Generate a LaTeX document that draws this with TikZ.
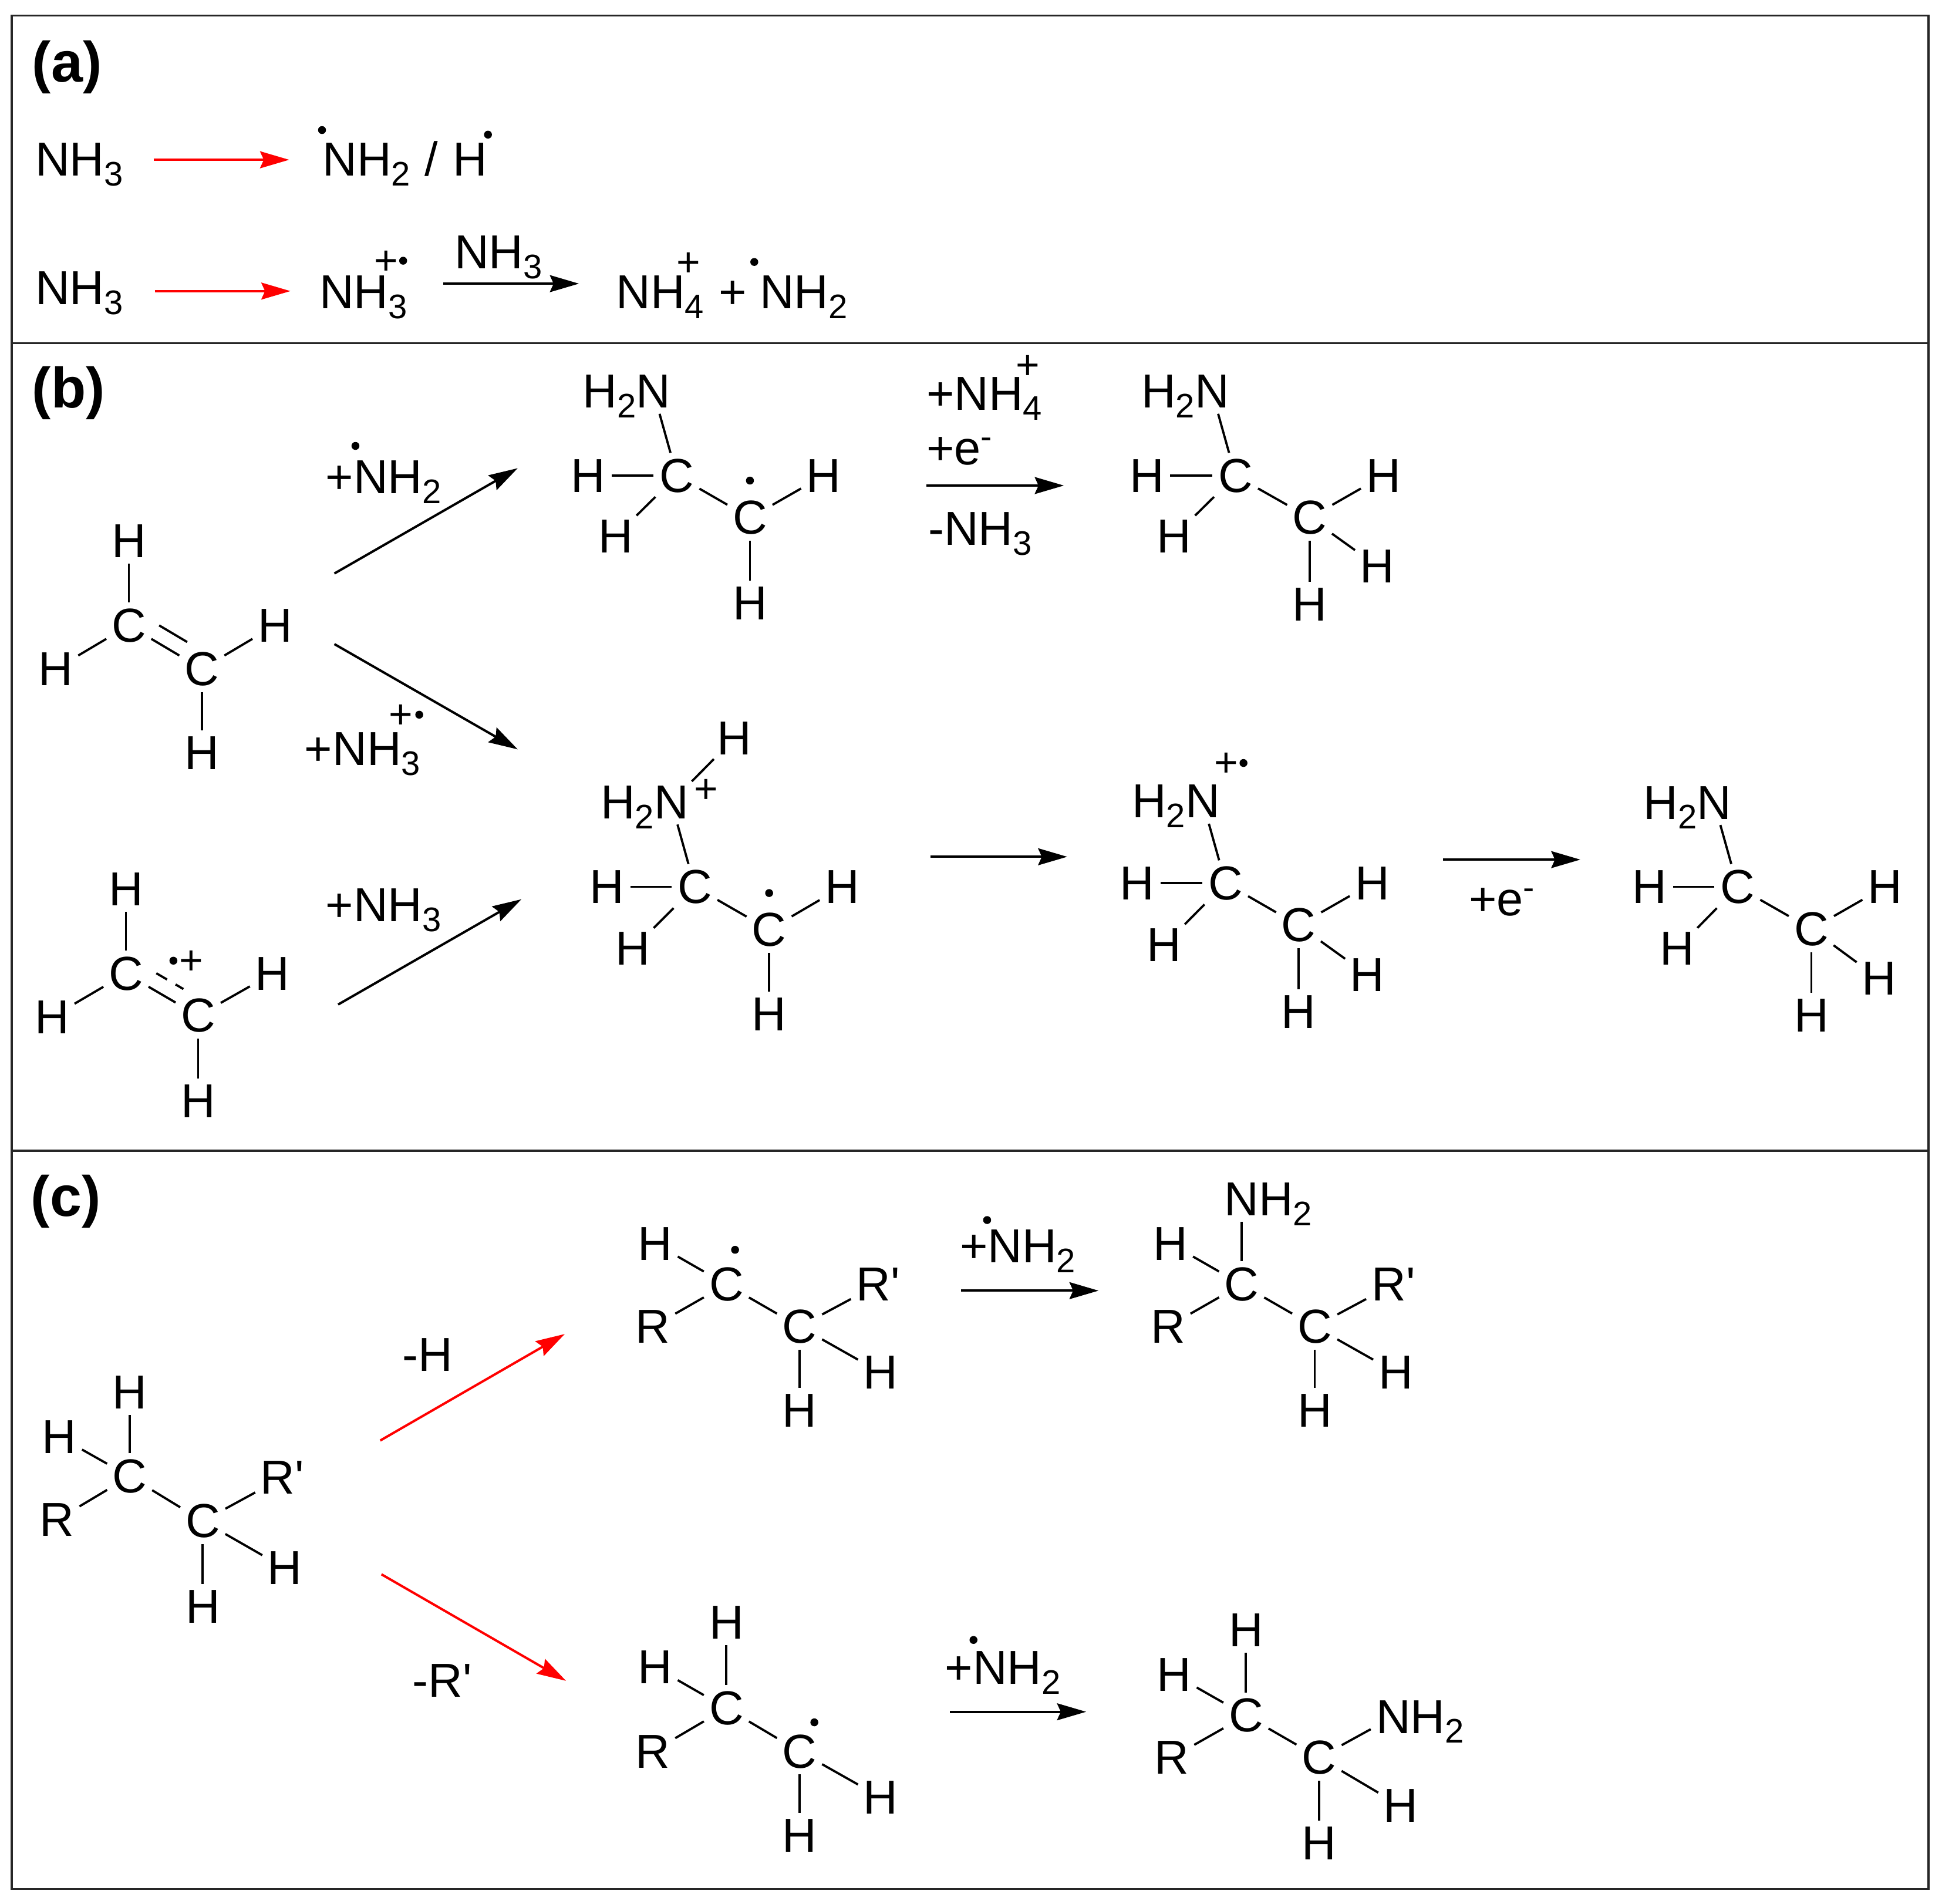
\documentclass[tikz,border=0pt]{standalone}
\usepackage{fontspec}
\usetikzlibrary{arrows.meta}
\newfontfamily\chemfont{Liberation Sans}
\newcommand\chem{\chemfont\fontsize{38.5}{46}\selectfont}
\newcommand\chg{\chemfont\fontsize{33}{36}\selectfont}
\newcommand\subs[1]{\raisebox{-8pt}{\fontsize{27.5}{30}\selectfont #1}}
\newcommand\sups[1]{\raisebox{13pt}{\fontsize{27.5}{30}\selectfont #1}}
\newcommand\rxn[4]{\coordinate (#2s) at (#3); \coordinate (#2e) at (#4); \draw[#1] (#2s) -- (#2e);}
\tikzset{
  atom/.style={inner sep=0pt,outer sep=0pt,anchor=center,font=\chem},
  lbl/.style={inner sep=0pt,outer sep=0pt,anchor=base west,font=\chem},
  rad/.style={circle,fill=black,inner sep=0pt,outer sep=0pt,minimum size=6.4pt},
  chgn/.style={inner sep=0pt,outer sep=0pt,anchor=center,font=\chg,yshift=-1.5pt},
  bond/.style={line width=1.8pt,black,shorten <=5pt,shorten >=5pt},
  karrow/.style={line width=1.9pt,black,-{Stealth[length=23.5pt,width=13.6pt,inset=3pt]}},
  rarrow/.style={line width=1.9pt,red,-{Stealth[length=23.5pt,width=13.6pt,inset=3pt]}},
  framebox/.style={line width=1.7pt,black!85},
  panel/.style={inner sep=0pt,outer sep=0pt,anchor=base west,font=\chemfont\bfseries\fontsize{46}{50}\selectfont},
}
\begin{document}
\begin{tikzpicture}[x=1pt,y=-1pt]
\useasboundingbox (0,0) rectangle (1568,1537);
\fill[white] (0,0) rectangle (1568,1537);
% frames
\draw[framebox] (9.5,12.5) rectangle (1557,1525);
\draw[framebox] (9.5,277) -- (1557,277);
\draw[framebox] (9.5,929) -- (1557,929);
\node[panel] (pa) at (26,66) {(a)};
\node[panel] (pb) at (26,329) {(b)};
\node[panel] (pc) at (25,982) {(c)};
% ---- panel a
\node[lbl] (a1l) at (28.5,142) {NH\subs{3}};
\rxn{rarrow}{a1}{124,129}{233.5,129}
\node[lbl] (a1r) at (260.5,142) {NH\subs{2}\hspace{1pt} /\hspace{1pt} H};
\node[rad] (a1d1) at (260,105) {};
\node[rad] (a1d2) at (394,108.7) {};
\node[lbl] (a2l) at (28.5,246) {NH\subs{3}};
\rxn{rarrow}{a2}{125,235}{234.5,235}
\node[lbl] (a2m) at (258,249) {NH\subs{3}};
\node[chgn] (a2p) at (312,210.5) {+};
\node[rad] (a2d) at (325.5,210.5) {};
\rxn{karrow}{a3}{358,229}{467.5,229}
\node[lbl] (a3t) at (367,217) {NH\subs{3}};
\node[lbl] (a3r) at (497.5,249) {NH\subs{4}};
\node[chgn] (a3p) at (556,212) {+};
\node[lbl] (a3plus) at (580.5,249) {+};
\node[lbl] (a3n) at (613.5,249) {NH\subs{2}};
\node[rad] (a3d) at (609,211.5) {};
% ---- panel b: ethene
\node[atom] (e1t) at (104,437) {H};
\node[atom] (e1a) at (104,505) {C};
\node[atom] (e1l) at (45,540) {H};
\node[atom] (e1b) at (163,540) {C};
\node[atom] (e1r) at (222,505) {H};
\node[atom] (e1d) at (163,608) {H};
\foreach \p/\q in {e1a/e1t,e1a/e1l,e1a/e1b,e1b/e1r,e1b/e1d} \draw[bond] (\p) -- (\q);
\draw[bond,transform canvas={shift={(6.3pt,10.9pt)}}] (e1a) -- (e1b);
% ethene radical cation
\node[atom] (e2t) at (101.7,718) {H};
\node[atom] (e2a) at (101.7,786) {C};
\node[atom] (e2l) at (42,821) {H};
\node[atom] (e2b) at (160,820) {C};
\node[atom] (e2r) at (220,786) {H};
\node[atom] (e2d) at (160,889) {H};
\foreach \p/\q in {e2a/e2t,e2a/e2l,e2a/e2b,e2b/e2r,e2b/e2d} \draw[bond] (\p) -- (\q);
\draw[bond,dash pattern=on 10pt off 8pt,transform canvas={shift={(6.3pt,10.9pt)}}] (e2a) -- (e2b);
\node[rad] (e2dot) at (140,775.6) {};
\node[chgn] (e2p) at (154.5,775.6) {+};
% arrows and labels
\rxn{karrow}{b1}{270,463}{418,378}
\rxn{karrow}{b2}{270,520}{418,605}
\rxn{karrow}{b3}{273,811}{421,726}
\node[lbl] (b1t) at (263,398.5) {+NH\subs{2}};
\node[rad] (b1d) at (287,360) {};
\node[lbl] (b2t) at (246,618) {+NH\subs{3}};
\node[chgn] (b2p) at (323.5,577) {+};
\node[rad] (b2d) at (338.5,577) {};
\node[lbl] (b3t) at (263,744) {+NH\subs{3}};
% product 1 (radical)
\node[atom] (p1n) at (527.5,316) {N};
\node[lbl,anchor=base east] (p1h2) at (p1n.base west) {H\subs{2}};
\node[atom] (p1l) at (475,384) {H};
\node[atom] (p1a) at (546.5,384) {C};
\node[atom] (p1s) at (497,433) {H};
\node[atom] (p1b) at (605.5,418) {C};
\node[atom] (p1r) at (665,384) {H};
\node[atom] (p1d) at (605.5,487) {H};
\node[rad] (p1dot) at (605.5,388) {};
\foreach \p/\q in {p1a/p1n,p1a/p1l,p1a/p1s,p1a/p1b,p1b/p1r,p1b/p1d} \draw[bond] (\p) -- (\q);
% step
\rxn{karrow}{b4}{748,392}{859,392}
\node[lbl] (b4t) at (748,331) {+NH\subs{4}};
\node[chgn] (b4p) at (830,295) {+};
\node[lbl] (b4e) at (748,375) {+e\sups{-}};
\node[lbl] (b4m) at (749.5,440) {-NH\subs{3}};
% product 2
\node[atom] (p2n) at (978.5,316) {N};
\node[lbl,anchor=base east] (p2h2) at (p2n.base west) {H\subs{2}};
\node[atom] (p2l) at (926,384) {H};
\node[atom] (p2a) at (997.5,384) {C};
\node[atom] (p2s) at (948,433) {H};
\node[atom] (p2b) at (1057.5,418) {C};
\node[atom] (p2r) at (1117,384) {H};
\node[atom] (p2q) at (1112,457) {H};
\node[atom] (p2d) at (1057.5,488) {H};
\foreach \p/\q in {p2a/p2n,p2a/p2l,p2a/p2s,p2a/p2b,p2b/p2r,p2b/p2q,p2b/p2d} \draw[bond] (\p) -- (\q);
% product 3
\node[atom] (p3h) at (593,596) {H};
\node[atom] (p3n) at (542,647.6) {N};
\node[lbl,anchor=base east] (p3h2) at (p3n.base west) {H\subs{2}};
\node[chgn] (p3p) at (570,637) {+};
\node[atom] (p3l) at (490,716) {H};
\node[atom] (p3a) at (561,716) {C};
\node[atom] (p3s) at (511,766) {H};
\node[atom] (p3b) at (621,750.5) {C};
\node[atom] (p3r) at (680,716) {H};
\node[atom] (p3d) at (621,819) {H};
\node[rad] (p3dot) at (621,721) {};
\foreach \p/\q in {p3n/p3h,p3a/p3n,p3a/p3l,p3a/p3s,p3a/p3b,p3b/p3r,p3b/p3d} \draw[bond] (\p) -- (\q);
\rxn{karrow}{b5}{751.5,691.7}{861.7,691.7}
% product 4
\node[atom] (p4n) at (971,647) {N};
\node[lbl,anchor=base east] (p4h2) at (p4n.base west) {H\subs{2}};
\node[chgn] (p4p) at (990,616) {+};
\node[rad] (p4dot) at (1004,616) {};
\node[atom] (p4l) at (918,713) {H};
\node[atom] (p4a) at (989.5,713) {C};
\node[atom] (p4s) at (940,763) {H};
\node[atom] (p4b) at (1048.5,747) {C};
\node[atom] (p4r) at (1108,713) {H};
\node[atom] (p4q) at (1104,787) {H};
\node[atom] (p4d) at (1048.5,817) {H};
\foreach \p/\q in {p4a/p4n,p4a/p4l,p4a/p4s,p4a/p4b,p4b/p4r,p4b/p4q,p4b/p4d} \draw[bond] (\p) -- (\q);
\rxn{karrow}{b6}{1165,694}{1276,694}
\node[lbl] (b6e) at (1186,739) {+e\sups{-}};
% product 5
\node[atom] (p5n) at (1384,648) {N};
\node[lbl,anchor=base east] (p5h2) at (p5n.base west) {H\subs{2}};
\node[atom] (p5l) at (1332,716) {H};
\node[atom] (p5a) at (1403,716) {C};
\node[atom] (p5s) at (1354,766) {H};
\node[atom] (p5b) at (1462.5,750) {C};
\node[atom] (p5r) at (1522,716) {H};
\node[atom] (p5q) at (1517,790) {H};
\node[atom] (p5d) at (1462.5,820) {H};
\foreach \p/\q in {p5a/p5n,p5a/p5l,p5a/p5s,p5a/p5b,p5b/p5r,p5b/p5q,p5b/p5d} \draw[bond] (\p) -- (\q);
% ---- panel c
\node[atom] (c0t) at (104.7,1124) {H};
\node[atom] (c0l) at (48,1160) {H};
\node[atom] (c0a) at (104.7,1192) {C};
\node[atom] (c0R) at (46,1227) {R};
\node[atom] (c0b) at (163.7,1228) {C};
\node[atom] (c0r) at (228,1193) {R'};
\node[atom] (c0q) at (230,1266) {H};
\node[atom] (c0d) at (163.7,1297) {H};
\foreach \p/\q in {c0a/c0t,c0a/c0l,c0a/c0R,c0a/c0b,c0b/c0r,c0b/c0q,c0b/c0d} \draw[bond] (\p) -- (\q);
\rxn{rarrow}{c1}{307,1163}{456,1077}
\rxn{rarrow}{c2}{308,1271}{457,1357}
\node[lbl] (c1t) at (325,1107) {-H};
\node[lbl] (c2t) at (333,1370) {-R'};
% c1
\node[atom] (m1l) at (529,1004) {H};
\node[atom] (m1a) at (586.5,1037) {C};
\node[atom] (m1R) at (527,1071) {R};
\node[atom] (m1b) at (645.5,1071) {C};
\node[atom] (m1r) at (709,1037) {R'};
\node[atom] (m1q) at (711,1108) {H};
\node[atom] (m1d) at (645.5,1139) {H};
\node[rad] (m1dot) at (593.5,1009) {};
\foreach \p/\q in {m1a/m1l,m1a/m1R,m1a/m1b,m1b/m1r,m1b/m1q,m1b/m1d} \draw[bond] (\p) -- (\q);
\rxn{karrow}{c3}{776,1042}{887,1042}
\node[lbl] (c3t) at (775,1019.5) {+NH\subs{2}};
\node[rad] (c3d) at (797,985) {};
% c2
\node[atom] (m2n) at (1002.5,968) {N};
\node[lbl] (m2h2) at (m2n.base east) {H\subs{2}};
\node[atom] (m2l) at (945,1004) {H};
\node[atom] (m2a) at (1002.5,1037) {C};
\node[atom] (m2R) at (943,1071) {R};
\node[atom] (m2b) at (1061.5,1071) {C};
\node[atom] (m2r) at (1125,1037) {R'};
\node[atom] (m2q) at (1127,1108) {H};
\node[atom] (m2d) at (1061.5,1139) {H};
\foreach \p/\q in {m2a/m2n,m2a/m2l,m2a/m2R,m2a/m2b,m2b/m2r,m2b/m2q,m2b/m2d} \draw[bond] (\p) -- (\q);
% c3
\node[atom] (m3t) at (586.5,1310) {H};
\node[atom] (m3l) at (529,1346) {H};
\node[atom] (m3a) at (586.5,1379) {C};
\node[atom] (m3R) at (527,1414) {R};
\node[atom] (m3b) at (645.5,1414) {C};
\node[atom] (m3q) at (711,1451) {H};
\node[atom] (m3d) at (645.5,1482) {H};
\node[rad] (m3dot) at (657.5,1390.5) {};
\foreach \p/\q in {m3a/m3t,m3a/m3l,m3a/m3R,m3a/m3b,m3b/m3q,m3b/m3d} \draw[bond] (\p) -- (\q);
\rxn{karrow}{c4}{767,1382}{877,1382}
\node[lbl] (c4t) at (763,1359.5) {+NH\subs{2}};
\node[rad] (c4d) at (786,1324) {};
% c4
\node[atom] (m4t) at (1006,1316) {H};
\node[atom] (m4l) at (948,1352) {H};
\node[atom] (m4a) at (1006,1385) {C};
\node[atom] (m4R) at (946,1419) {R};
\node[atom] (m4b) at (1065,1419) {C};
\node[atom] (m4n) at (1125,1386) {N};
\node[lbl] (m4h2) at (m4n.base east) {H\subs{2}};
\node[atom] (m4q) at (1131,1458) {H};
\node[atom] (m4d) at (1065,1488) {H};
\foreach \p/\q in {m4a/m4t,m4a/m4l,m4a/m4R,m4a/m4b,m4b/m4n,m4b/m4q,m4b/m4d} \draw[bond] (\p) -- (\q);
\end{tikzpicture}
\end{document}
